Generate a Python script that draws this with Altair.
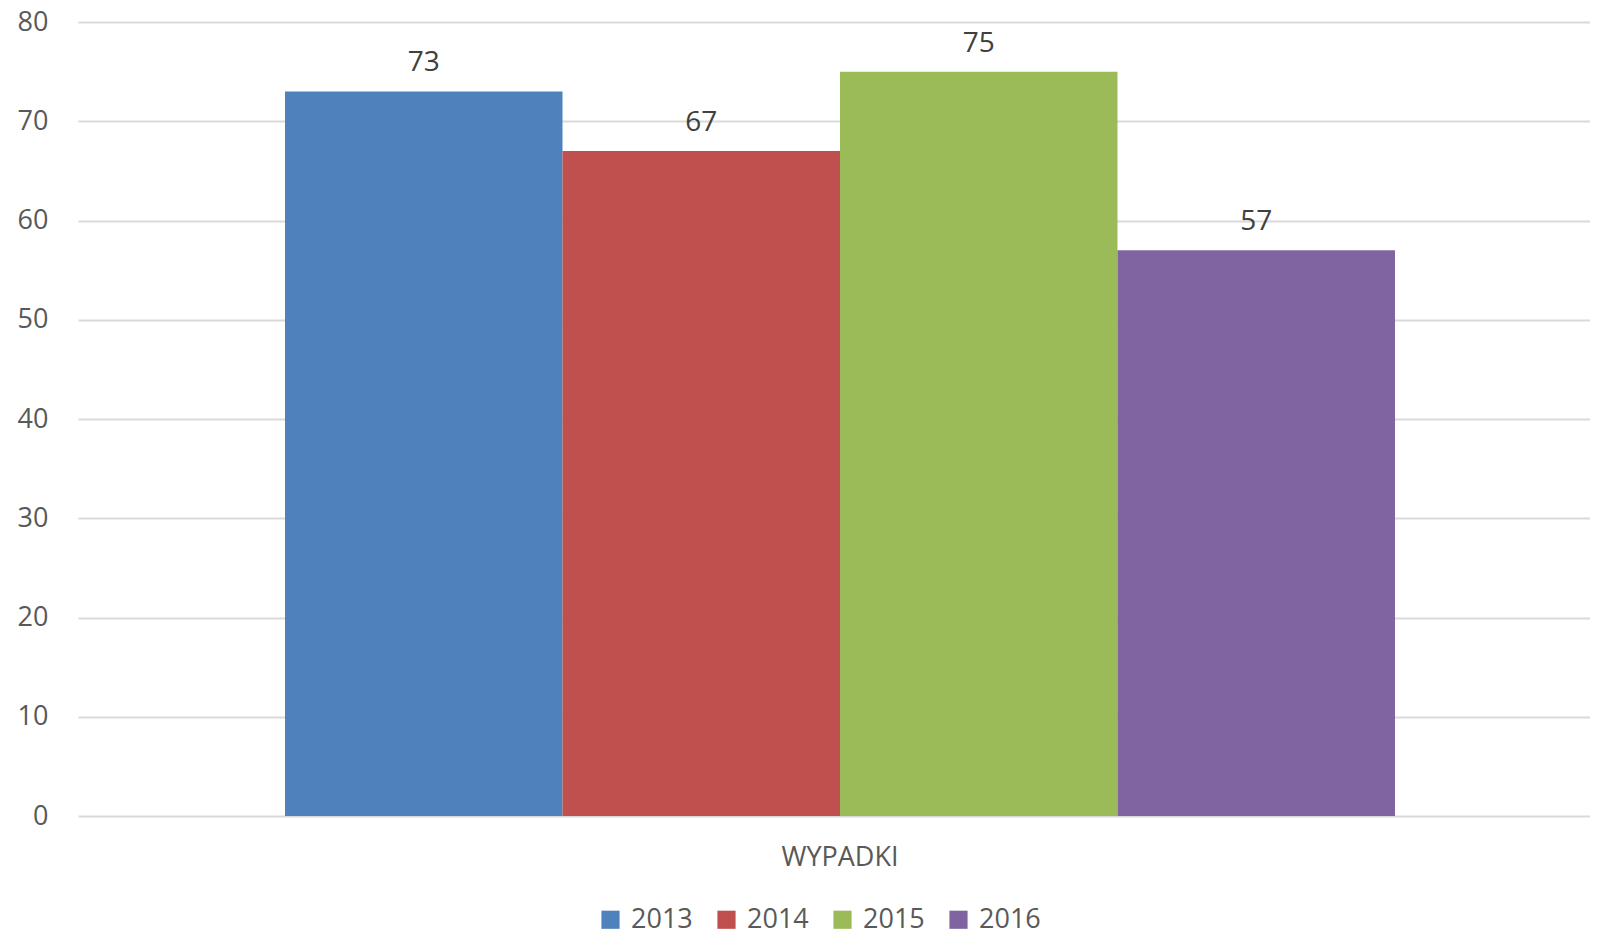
import altair as alt
import pandas as pd

years = ["2013", "2014", "2015", "2016"]
values = [73, 67, 75, 57]
category = ["WYPADKI"] * 4
colors = ["#4F81BD", "#C0504D", "#9BBB59", "#8064A2"]
y_ticks = [0, 10, 20, 30, 40, 50, 60, 70, 80]

df = pd.DataFrame({"cat": category, "year": years, "value": values})

FONT = "Open Sans"
TXT = "#595959"
FS = 27

base = alt.Chart(df).encode(
    x=alt.X("cat:N", title=None,
            scale=alt.Scale(range=[0, 1524], paddingOuter=0.1865, paddingInner=0),
            axis=alt.Axis(labelAngle=0, labelFontSize=FS, labelColor=TXT, labelFont=FONT,
                          ticks=False, domain=False, labelPadding=28)),
    xOffset=alt.XOffset("year:N", scale=alt.Scale(paddingInner=0, paddingOuter=0)),
)

bars = base.mark_bar().encode(
    y=alt.Y("value:Q", title=None,
            scale=alt.Scale(domain=[0, 80], nice=False),
            axis=alt.Axis(values=y_ticks, labelFontSize=FS, labelColor=TXT, labelFont=FONT,
                          ticks=False, domain=False, gridColor="#D9D9D9", gridWidth=2,
                          labelPadding=30)),
    color=alt.Color("year:N", scale=alt.Scale(domain=years, range=colors),
                    legend=alt.Legend(title=None, orient="none", direction="horizontal",
                                      legendX=519, legendY=884,
                                      symbolType="square", symbolSize=330, symbolStrokeWidth=0,
                                      labelFontSize=FS, labelColor=TXT, labelFont=FONT,
                                      columnPadding=20, labelOffset=7)),
)

labels = base.mark_text(baseline="alphabetic", dy=-20, fontSize=28, font=FONT, color="#404040").encode(
    y=alt.Y("value:Q"),
    text=alt.Text("value:Q"),
)

chart = (bars + labels).properties(
    width=1512, height=794,
    autosize=alt.AutoSizeParams(type="none"),
    padding={"left": 70, "top": 14, "right": 0, "bottom": 116},
).configure_view(stroke=None)

chart.save("out.html", embed_options={"renderer": "svg", "actions": False})
